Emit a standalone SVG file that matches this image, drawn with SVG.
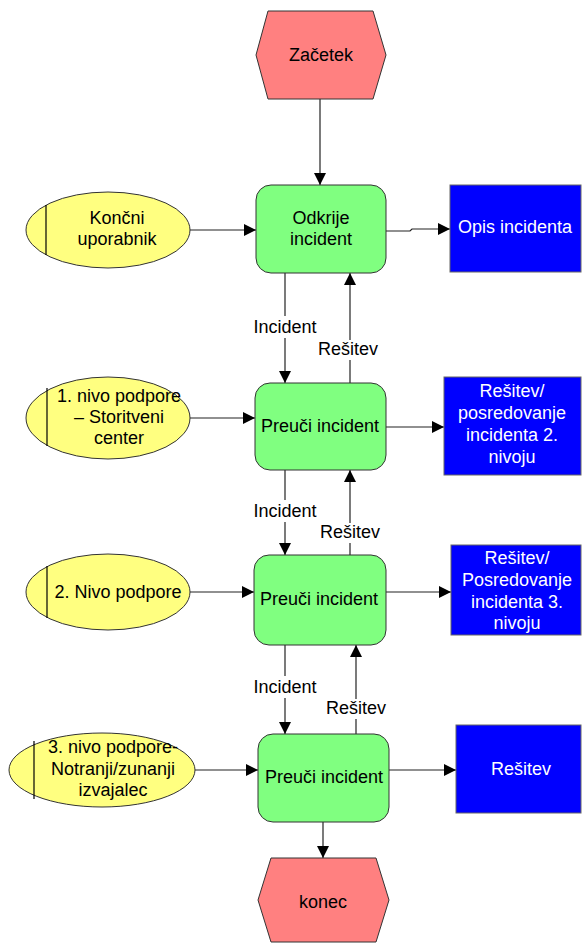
<svg xmlns="http://www.w3.org/2000/svg" width="582" height="943" viewBox="0 0 582 943">
  <style>
    text { font-family: "Liberation Sans", Arial, sans-serif; font-size: 18px; text-anchor: middle; fill: #000; }
    .event { fill: #ff8080; stroke: #333; stroke-width: 1; }
    .func { fill: #80ff80; stroke: #333; stroke-width: 1; }
    .org { fill: #ffff80; stroke: #333; stroke-width: 1; }
    .orgbar { stroke: #000; stroke-width: 1.2; }
    .info { fill: #0000ff; stroke: #666; stroke-width: 1; }
    .info-text { fill: #fff; }
    .flow { fill: none; stroke: #222; stroke-width: 1.2; marker-end: url(#arrow); }
    .lblbg { fill: #fff; }
  </style>
  <defs>
    <marker id="arrow" markerUnits="userSpaceOnUse" markerWidth="12" markerHeight="12" refX="12" refY="6" orient="auto">
      <path d="M0,0 L12,6 L0,12 z" fill="#000"/>
    </marker>
  </defs>

  <rect width="582" height="943" fill="#fff"/>

  <!-- connectors -->
  <g id="connectors">
    <line class="flow" x1="320" y1="99" x2="320" y2="185"/>
    <line class="flow" x1="190" y1="230" x2="256" y2="230"/>
    <polyline class="flow" points="386,231 410,231 412,229 450,229"/>

    <line class="flow" x1="285" y1="273" x2="285" y2="383"/>
    <line class="flow" x1="350" y1="383" x2="350" y2="273"/>
    <line class="flow" x1="190" y1="418" x2="255" y2="418"/>
    <line class="flow" x1="386" y1="427" x2="444" y2="427"/>

    <line class="flow" x1="285" y1="470" x2="285" y2="555"/>
    <line class="flow" x1="350" y1="555" x2="350" y2="470"/>
    <line class="flow" x1="190" y1="592" x2="254" y2="592"/>
    <line class="flow" x1="386" y1="592" x2="451" y2="592"/>

    <line class="flow" x1="285" y1="645" x2="285" y2="734"/>
    <line class="flow" x1="356" y1="734" x2="356" y2="645"/>
    <line class="flow" x1="195" y1="770" x2="258" y2="770"/>
    <line class="flow" x1="389" y1="770" x2="456" y2="770"/>

    <line class="flow" x1="323" y1="822" x2="323" y2="858"/>

    <!-- connector labels -->
    <rect class="lblbg" x="254" y="316" width="62" height="22"/>
    <text x="285" y="333">Incident</text>
    <rect class="lblbg" x="319" y="340" width="61" height="20"/>
    <text x="348" y="355">Rešitev</text>

    <rect class="lblbg" x="254" y="500" width="62" height="22"/>
    <text x="285" y="517">Incident</text>
    <rect class="lblbg" x="320" y="523" width="61" height="20"/>
    <text x="350" y="538">Rešitev</text>

    <rect class="lblbg" x="254" y="676" width="62" height="22"/>
    <text x="285" y="693">Incident</text>
    <rect class="lblbg" x="326" y="699" width="61" height="20"/>
    <text x="356" y="714">Rešitev</text>
  </g>

  <!-- start event -->
  <g id="zacetek">
    <polygon class="event" points="268,11 373,11 386,55 373,99 268,99 256,55"/>
    <text x="321" y="61">Začetek</text>
  </g>

  <!-- end user -->
  <g id="koncni-uporabnik">
    <ellipse class="org" cx="108" cy="230" rx="82" ry="38"/>
    <line class="orgbar" x1="46" y1="205" x2="46" y2="255"/>
    <text x="117" y="224">Končni</text>
    <text x="117" y="245">uporabnik</text>
  </g>

  <g id="odkrije-incident">
    <rect class="func" x="256" y="185" width="130" height="88" rx="15"/>
    <text x="321" y="224">Odkrije</text>
    <text x="321" y="245">incident</text>
  </g>

  <g id="opis-incidenta">
    <rect class="info" x="450" y="185" width="131" height="87"/>
    <text class="info-text" x="515" y="233">Opis incidenta</text>
  </g>

  <!-- first support level -->
  <g id="nivo1">
    <ellipse class="org" cx="108" cy="418" rx="82" ry="41"/>
    <line class="orgbar" x1="47" y1="388" x2="47" y2="446"/>
    <text x="119" y="402">1. nivo podpore</text>
    <text x="119" y="423">– Storitveni</text>
    <text x="119" y="444">center</text>
  </g>

  <g id="preuci-1">
    <rect class="func" x="255" y="383" width="131" height="87" rx="15"/>
    <text x="320" y="432">Preuči incident</text>
  </g>

  <g id="resitev-posredovanje-2">
    <rect class="info" x="444" y="377" width="137" height="98"/>
    <text class="info-text" x="512" y="397">Rešitev/</text>
    <text class="info-text" x="512" y="419">posredovanje</text>
    <text class="info-text" x="512" y="441">incidenta 2.</text>
    <text class="info-text" x="512" y="463">nivoju</text>
  </g>

  <!-- second support level -->
  <g id="nivo2">
    <ellipse class="org" cx="108" cy="592" rx="82" ry="38"/>
    <line class="orgbar" x1="47" y1="566" x2="47" y2="618"/>
    <text x="118" y="598">2. Nivo podpore</text>
  </g>

  <g id="preuci-2">
    <rect class="func" x="254" y="555" width="132" height="90" rx="15"/>
    <text x="319" y="605">Preuči incident</text>
  </g>

  <g id="resitev-posredovanje-3">
    <rect class="info" x="451" y="545" width="130" height="90"/>
    <text class="info-text" x="517" y="564">Rešitev/</text>
    <text class="info-text" x="517" y="586">Posredovanje</text>
    <text class="info-text" x="517" y="608">incidenta 3.</text>
    <text class="info-text" x="517" y="629">nivoju</text>
  </g>

  <!-- third support level -->
  <g id="nivo3">
    <ellipse class="org" cx="102" cy="770" rx="93" ry="37"/>
    <line class="orgbar" x1="34" y1="741" x2="34" y2="799"/>
    <text x="113" y="753">3. nivo podpore-</text>
    <text x="113" y="775">Notranji/zunanji</text>
    <text x="113" y="796">izvajalec</text>
  </g>

  <g id="preuci-3">
    <rect class="func" x="258" y="734" width="131" height="88" rx="15"/>
    <text x="324" y="783">Preuči incident</text>
  </g>

  <g id="resitev">
    <rect class="info" x="456" y="725" width="125" height="88"/>
    <text class="info-text" x="521" y="775">Rešitev</text>
  </g>

  <!-- end event -->
  <g id="konec">
    <polygon class="event" points="271,858 376,858 389,900 376,942 271,942 258,900"/>
    <text x="323" y="908">konec</text>
  </g>
</svg>
